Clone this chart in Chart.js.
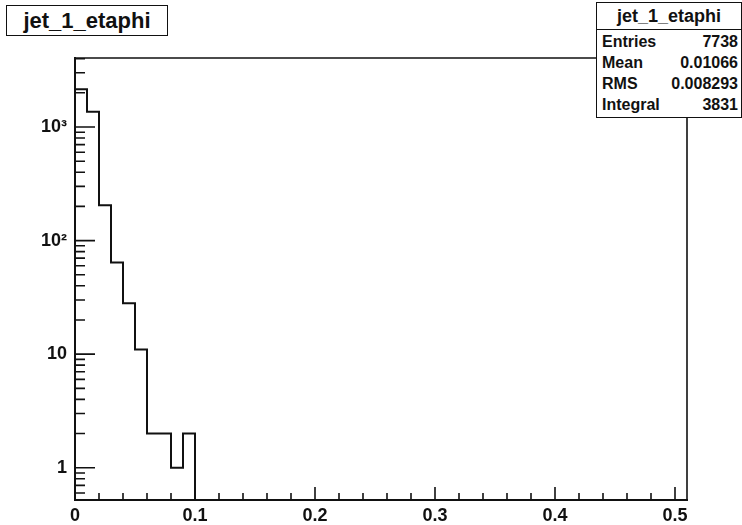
<!DOCTYPE html>
<html lang="en">
<head>
<meta charset="UTF-8">
<title>jet_1_etaphi</title>
<script src="https://cdn.jsdelivr.net/npm/chart.js"></script>
<style>
  body { margin: 0; background: #fff; font-family: "Liberation Sans", Arial, sans-serif; }
  #wrap { position: relative; width: 742px; height: 525px; }
  #title-box {
    position: absolute; left: 6px; top: 5px; width: 160px; height: 29px;
    border: 1px solid #111; background: #fff; color: #111;
    font-weight: bold; font-size: 22px; line-height: 29px; text-align: center;
  }
  #stats-box {
    position: absolute; left: 596px; top: 2px; width: 144px; height: 114px;
    border: 1px solid #111; background: #fff; color: #111;
    font-weight: bold; font-size: 16px;
  }
  #stats-box .head {
    height: 26px; line-height: 26px; text-align: center; font-size: 18px;
    border-bottom: 1px solid #111;
  }
  #stats-box .rows { padding-top: 1px; }
  #stats-box .row {
    display: flex; justify-content: space-between;
    height: 21px; line-height: 21px; padding: 0 3px 0 5px;
  }
</style>
</head>
<body>
<div id="wrap">
  <canvas id="hist" width="742" height="525"></canvas>
  <div id="title-box">jet_1_etaphi</div>
  <div id="stats-box">
    <div class="head">jet_1_etaphi</div>
    <div class="rows" id="stats-rows"></div>
  </div>
</div>
<script>
// bin contents of jet_1_etaphi (bins of 0.01, everything above 0.1 is empty)
const binLowEdges = [0, 0.01, 0.02, 0.03, 0.04, 0.05, 0.06, 0.07, 0.08, 0.09];
const binCounts = [2150, 1360, 205, 64, 28, 11, 2, 2, 1, 2];
const binWidth = 0.01;

const xTickValues = [0, 0.1, 0.2, 0.3, 0.4, 0.5];
const xTickLabels = ['0', '0.1', '0.2', '0.3', '0.4', '0.5'];
const yTickValues = [1, 10, 100, 1000];
const yTickLabels = ['1', '10', '10²', '10³'];

const statLabels = ['Entries', 'Mean', 'RMS', 'Integral'];
const statValues = ['7738', '0.01066', '0.008293', '3831'];

const xMin = 0, xMax = 0.51;
const yMin = 0.52, yMax = 4050;

const rowsEl = document.getElementById('stats-rows');
statLabels.forEach((label, i) => {
  const row = document.createElement('div');
  row.className = 'row';
  row.innerHTML = `<span>${label}</span><span>${statValues[i]}</span>`;
  rowsEl.appendChild(row);
});

const points = binLowEdges.map((x, i) => ({ x: x, y: binCounts[i] }));
// empty bins after the last filled one: send the outline down below the frame
points.push({ x: binLowEdges[binLowEdges.length - 1] + binWidth, y: yMin / 10 });

// ROOT-style frame: ticks point inwards, top and right edges closed
const frameAndTicks = {
  id: 'frameAndTicks',
  afterDraw(chart) {
    const { ctx, chartArea: a, scales: { x, y } } = chart;
    ctx.save();
    ctx.strokeStyle = '#111';
    ctx.lineWidth = 1.6;
    ctx.beginPath();
    for (let i = 0; i <= 25; i++) {
      const px = x.getPixelForValue(i * 0.02);
      const len = i % 5 === 0 ? 13 : 7;
      ctx.moveTo(px, a.bottom);
      ctx.lineTo(px, a.bottom - len);
    }
    [0.1, 1, 10, 100, 1000].forEach(d => {
      for (let m = 1; m <= 9; m++) {
        const v = m * d;
        if (v < yMin || v > yMax) continue;
        const py = y.getPixelForValue(v);
        ctx.moveTo(a.left, py);
        ctx.lineTo(a.left + (m === 1 ? 20 : 10), py);
      }
    });
    ctx.moveTo(a.left, a.top);
    ctx.lineTo(a.right, a.top);
    ctx.lineTo(a.right, a.bottom);
    ctx.stroke();
    ctx.restore();
  }
};

const labelFont = { family: 'Liberation Sans', size: 18, weight: 'bold' };

new Chart(document.getElementById('hist'), {
  type: 'line',
  data: {
    datasets: [{
      data: points,
      stepped: true,
      borderColor: '#111',
      borderWidth: 2,
      pointRadius: 0,
      fill: false
    }]
  },
  options: {
    responsive: false,
    animation: false,
    devicePixelRatio: 1,
    layout: { padding: { top: 58, right: 55, left: 0, bottom: 0 } },
    plugins: { legend: { display: false }, tooltip: { enabled: false } },
    scales: {
      x: {
        type: 'linear',
        min: xMin,
        max: xMax,
        afterBuildTicks: s => { s.ticks = xTickValues.map(v => ({ value: v })); },
        afterFit: s => { s.height = 25; },
        grid: { display: false, drawTicks: false },
        border: { display: true, color: '#111', width: 2 },
        ticks: {
          callback: (v, i) => xTickLabels[i],
          font: labelFont, color: '#111', padding: 5,
          maxRotation: 0, autoSkip: false
        }
      },
      y: {
        type: 'logarithmic',
        min: yMin,
        max: yMax,
        afterBuildTicks: s => { s.ticks = yTickValues.map(v => ({ value: v })); },
        afterFit: s => { s.width = 75; },
        grid: { display: false, drawTicks: false },
        border: { display: true, color: '#111', width: 2 },
        ticks: {
          callback: (v, i) => yTickLabels[i],
          font: labelFont, color: '#111', padding: 8,
          autoSkip: false
        }
      }
    }
  },
  plugins: [frameAndTicks]
});
</script>
</body>
</html>
